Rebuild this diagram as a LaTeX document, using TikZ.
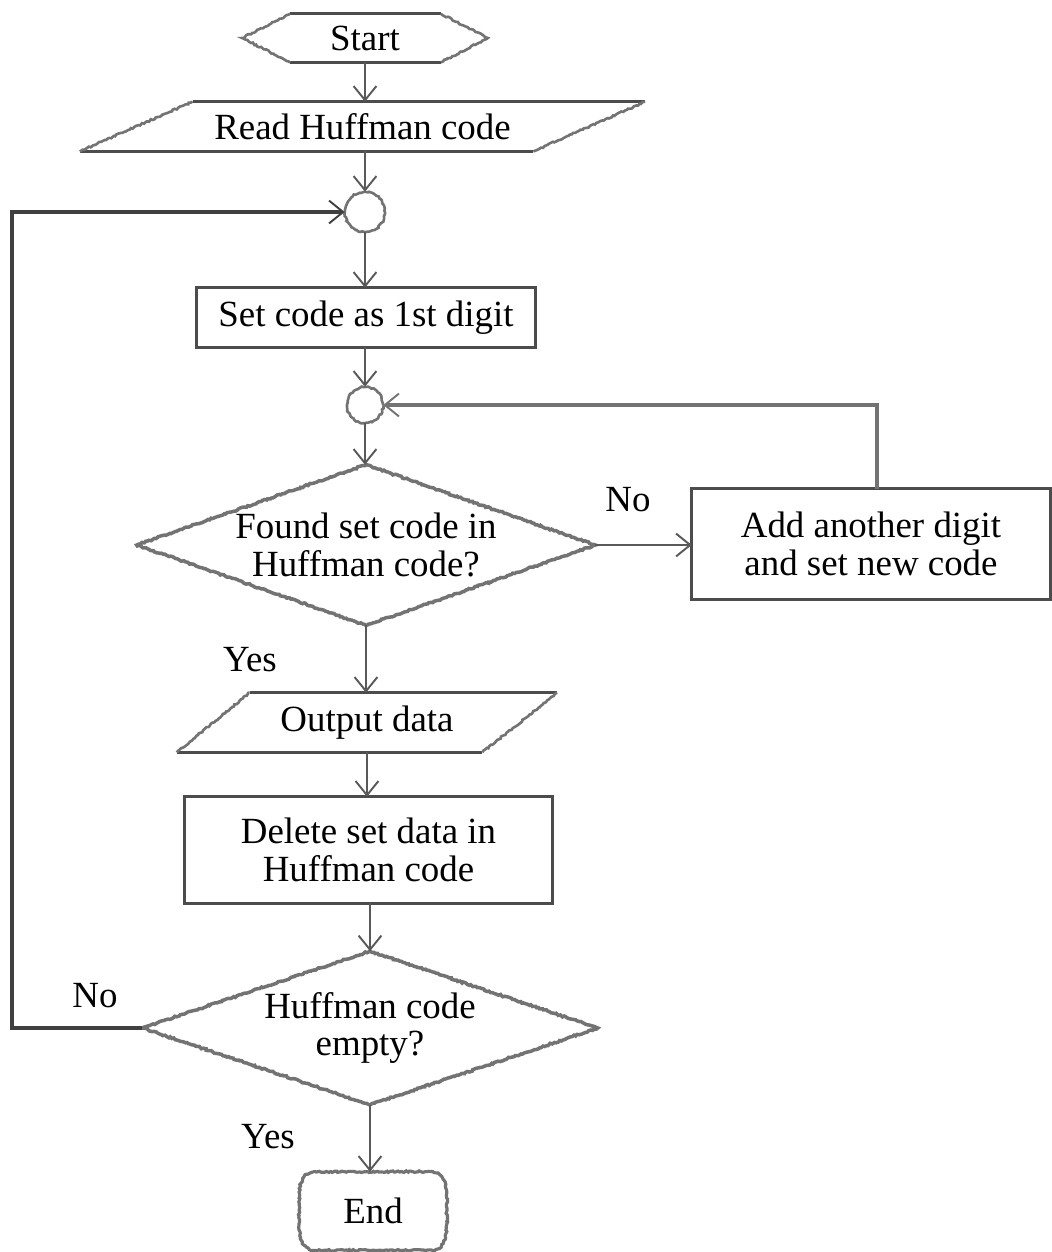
\documentclass[tikz,border=0pt]{standalone}
\usepackage{fontspec}
\setmainfont{Liberation Serif}
\usetikzlibrary{arrows.meta,decorations.pathmorphing,calc}
\begin{document}
\pgfmathsetseed{7}
\begin{tikzpicture}[x=0.02cm,y=-0.02cm,
  every node/.style={font=\fontsize{21}{21.5}\selectfont, text=black},
  frame/.style={rectangle, inner sep=0pt, align=center},
  solidline/.style={draw=black!70, line width=1.4pt},
  sketchy/.style={draw=black!55, line width=1.5pt, decorate,
     decoration={random steps, segment length=1.1pt, amplitude=0.45pt}},
  tip/.style={-{Straight Barb[length=8pt,width=13pt,line width=1.1pt]}},
  conn/.style={draw=black!65, line width=1.2pt, tip},
  loopline/.style={draw=black!75, line width=1.8pt},
  lbl/.style={inner sep=0pt}
]
\useasboundingbox (0,0) rectangle (1052,1252);

% nodes
\node[frame, minimum width=4.9cm, minimum height=0.96cm] (st) at (365,38) {Start};
\node[frame, minimum width=11.3cm, minimum height=0.98cm] (rd) at (362.5,126.5) {Read Huffman code};
\node[circle, inner sep=0pt, minimum size=0.8cm] (c1) at (365,212) {};
\node[frame, minimum width=6.76cm, minimum height=1.18cm] (sc) at (366,317.5) {Set code as 1st digit};
\node[circle, inner sep=0pt, minimum size=0.72cm] (c2) at (365,405) {};
\node[frame, minimum width=9.16cm, minimum height=3.2cm] (d1) at (366,545) {Found set code in\\Huffman code?};
\node[frame, minimum width=7.16cm, minimum height=2.2cm] (ad) at (871,544) {Add another digit\\and set new code};
\node[frame, minimum width=7.6cm, minimum height=1.18cm] (od) at (367,722.5) {Output data};
\node[frame, minimum width=7.34cm, minimum height=2.12cm] (dl) at (368.5,850) {Delete set data in\\Huffman code};
\node[frame, minimum width=9.1cm, minimum height=3.06cm] (d2) at (370,1028) {Huffman code\\empty?};
\node[frame, minimum width=2.94cm, minimum height=1.56cm] (en) at (373,1211) {End};

% shapes
% Start hexagon
\draw[solidline] ($(st.north west)+(48,0)$) -- ($(st.north east)+(-47,0)$);
\draw[solidline] ($(st.south west)+(48,0)$) -- ($(st.south east)+(-47,0)$);
\draw[sketchy] ($(st.north west)+(48,0)$) -- (st.west) -- ($(st.south west)+(48,0)$);
\draw[sketchy] ($(st.north east)+(-47,0)$) -- (st.east) -- ($(st.south east)+(-47,0)$);
% Read parallelogram
\draw[solidline] ($(rd.north west)+(113,0)$) -- (rd.north east);
\draw[solidline] (rd.south west) -- ($(rd.south east)+(-112,0)$);
\draw[sketchy] (rd.south west) -- ($(rd.north west)+(113,0)$);
\draw[sketchy] ($(rd.south east)+(-112,0)$) -- (rd.north east);
% circles
\draw[sketchy] (c1.center) circle[radius=0.4cm];
\draw[sketchy] (c2.center) circle[radius=0.36cm];
% set code box
\draw[solidline] (sc.north west) rectangle (sc.south east);
% diamonds
\draw[sketchy, line width=2pt] (d1.north) -- (d1.east) -- (d1.south) -- (d1.west) -- cycle;
\draw[sketchy, line width=2pt] (d2.north) -- (d2.east) -- (d2.south) -- (d2.west) -- cycle;
% add box
\draw[solidline] (ad.north west) rectangle (ad.south east);
% output parallelogram
\draw[solidline] ($(od.north west)+(73,0)$) -- (od.north east);
\draw[solidline] (od.south west) -- ($(od.south east)+(-75,0)$);
\draw[sketchy] (od.south west) -- ($(od.north west)+(73,0)$);
\draw[sketchy] ($(od.south east)+(-75,0)$) -- (od.north east);
% delete box
\draw[solidline] (dl.north west) rectangle (dl.south east);
% end terminator
\draw[sketchy, line width=1.8pt] ($(en.north west)+(14,0)$) -- ($(en.north east)+(-14,0)$)
   to[out=-10,in=90] (en.east) to[out=-90,in=10] ($(en.south east)+(-14,0)$)
   -- ($(en.south west)+(14,0)$) to[out=170,in=-90] (en.west) to[out=90,in=190] cycle;

% connectors
\draw[conn] (st.south) -- (st.south |- rd.north);
\draw[conn] (c1 |- rd.south) -- (c1.north);
\draw[conn] (c1.south) -- (c1.south |- sc.north);
\draw[conn] (c2 |- sc.south) -- (c2.north);
\draw[conn] (c2.south) -- (c2.south |- d1.north);
\draw[conn] (d1.east) -- (d1.east -| ad.west);
\draw[loopline, draw=black!55, tip] ($(ad.north)+(6,0)$) |- (c2.east);
\draw[conn] (d1.south) -- (d1.south |- od.north);
\draw[conn] (od.north |- od.south) -- (od.north |- dl.north);
\draw[conn] (d2.north |- dl.south) -- (d2.north);
\coordinate (lp) at (12,1025);
\draw[loopline, tip] (d2.west) -- (d2.west -| lp) |- (c1.west);
\draw[conn] (d2.south) -- (d2.south |- en.north);

% labels
\node[lbl] (no1) at (628,500) {No};
\node[lbl] (yes1) at (250,660) {Yes};
\node[lbl] (no2) at (95,996) {No};
\node[lbl] (yes2) at (268,1137) {Yes};
\end{tikzpicture}
\end{document}
